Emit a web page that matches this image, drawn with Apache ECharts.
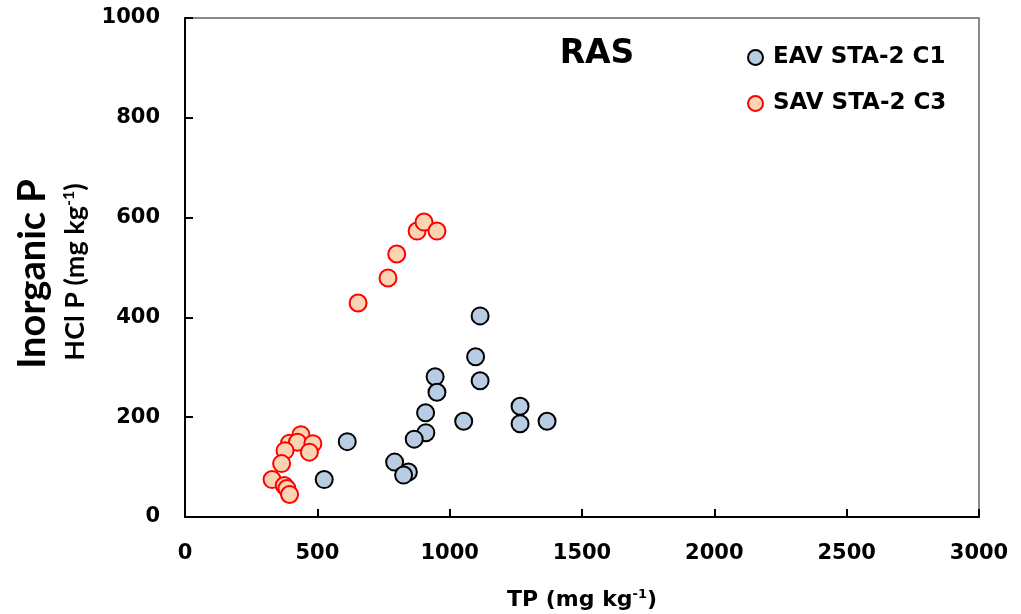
<!DOCTYPE html>
<html><head><meta charset="utf-8">
<script src="https://cdn.jsdelivr.net/npm/echarts@6/dist/echarts.min.js"></script>
<style>html,body{margin:0;padding:0;background:#fff}#c{width:1021px;height:614px}</style>
</head><body><div id="c"></div>
<script>
const xTicks = [0, 500, 1000, 1500, 2000, 2500, 3000];
const yTicks = [0, 200, 400, 600, 800, 1000];
const eavName = 'EAV STA-2 C1';
const savName = 'SAV STA-2 C3';
const eavTP = [1115, 1098, 1115, 945, 952, 909, 910, 866, 1053, 1266, 1266, 1368, 613, 526, 792, 844, 826];
const eavHCl = [403, 321, 273, 281, 250, 209, 169, 156, 192, 222, 187, 192, 151, 75, 110, 90, 84];
const savTP = [654, 767, 800, 877, 903, 952, 438, 395, 425, 483, 378, 470, 365, 329, 375, 385, 395];
const savHCl = [429, 479, 527, 573, 591, 573, 165, 148, 150, 147, 133, 130, 107, 75, 63, 57, 45];

const WIDE = '"DejaVu Sans", sans-serif';
const NARROW = 'Lato, "Open Sans", sans-serif';
const pair = (xs, ys) => xs.map((x, i) => [x, ys[i]]);
const chart = echarts.init(document.getElementById('c'), null, {renderer: 'canvas'});
chart.setOption({
  animation: false,
  textStyle: {fontFamily: WIDE},
  grid: {left: 185, top: 18, right: 42, bottom: 97, show: true, borderColor: '#666', borderWidth: 1.5, backgroundColor: 'transparent'},
  title: {text: 'RAS', left: 592, top: 33, textAlign: 'center',
    textStyle: {fontFamily: WIDE, fontSize: 33, fontWeight: 'bold', color: '#000'}},
  legend: {
    left: 742, top: 41, orient: 'vertical', itemGap: 23, itemWidth: 15, itemHeight: 15,
    data: [eavName, savName],
    textStyle: {fontFamily: WIDE, fontSize: 23, fontWeight: 'bold', color: '#000', padding: [0, 0, 0, 5]}
  },
  xAxis: {
    type: 'value', min: 0, max: 3000, interval: 500,
    axisLine: {onZero: false, lineStyle: {color: '#000', width: 2}},
    axisTick: {inside: true, length: 8, lineStyle: {color: '#000', width: 2}},
    axisLabel: {margin: 26, fontSize: 21, fontWeight: 'bold', color: '#000', fontFamily: WIDE,
      formatter: v => xTicks.includes(v) ? String(v) : ''},
    splitLine: {show: false}
  },
  yAxis: {
    type: 'value', min: 0, max: 1000, interval: 200,
    axisLine: {onZero: false, lineStyle: {color: '#000', width: 2}},
    axisTick: {inside: true, length: 8, lineStyle: {color: '#000', width: 2}},
    axisLabel: {margin: 25, fontSize: 21, fontWeight: 'bold', color: '#000', fontFamily: WIDE,
      formatter: v => yTicks.includes(v) ? String(v) : ''},
    splitLine: {show: false}
  },
  graphic: [
    {type: 'text', x: 582, y: 600,
      style: {text: '{a|TP (mg kg}{s|-1}{a|)}', align: 'center', verticalAlign: 'middle',
        rich: {a: {fontFamily: WIDE, fontSize: 22, fontWeight: 'bold', fill: '#000'},
               s: {fontFamily: WIDE, fontSize: 13, fontWeight: 'bold', fill: '#000', verticalAlign: 'top', padding: [0,0,10,0]}}}},
    {type: 'text', x: 33, y: 274, rotation: Math.PI / 2,
      style: {text: 'Inorganic P', fontFamily: NARROW, fontSize: 38, fontWeight: 'bold', fill: '#000', align: 'center', verticalAlign: 'middle'}},
    {type: 'text', x: 75, y: 272, rotation: Math.PI / 2,
      style: {text: '{a|HCl P (mg kg}{s|-1}{a|)}', align: 'center', verticalAlign: 'middle',
        rich: {a: {fontFamily: NARROW, fontSize: 27, fontWeight: 'bold', fill: '#000'},
               s: {fontFamily: NARROW, fontSize: 16, fontWeight: 'bold', fill: '#000', verticalAlign: 'top', padding: [0,0,12,0]}}}}
  ],
  series: [
    {name: eavName, type: 'scatter', symbol: 'circle', symbolSize: 17,
      data: pair(eavTP, eavHCl),
      itemStyle: {color: '#b8cce4', borderColor: '#000', borderWidth: 2, opacity: 1}},
    {name: savName, type: 'scatter', symbol: 'circle', symbolSize: 17,
      data: pair(savTP, savHCl),
      itemStyle: {color: '#fbd4b4', borderColor: '#ff0000', borderWidth: 2, opacity: 1}}
  ]
});
</script></body></html>
